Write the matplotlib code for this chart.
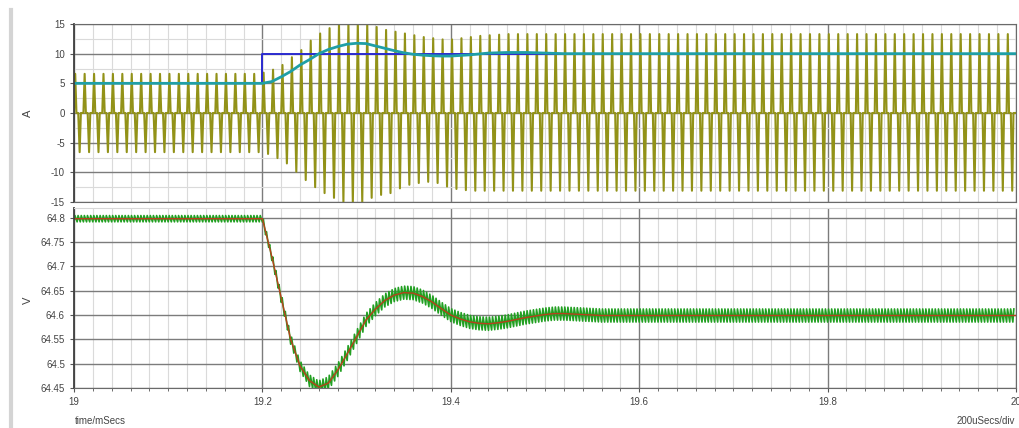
import numpy as np
import matplotlib
matplotlib.use('Agg')
import matplotlib.pyplot as plt
from matplotlib.lines import Line2D
from matplotlib.ticker import MultipleLocator, FuncFormatter

plt.rcParams['font.family'] = ['Liberation Sans Narrow', 'Liberation Sans', 'DejaVu Sans']
plt.rcParams['axes.unicode_minus'] = False

# one switching cycle = 10 uSecs, 100 cycles from 19 to 20 mSecs
t_cycle = np.round(np.arange(19.0, 20.0001, 0.01), 2)

# current: reference step, average (teal), per-cycle peaks of the switched current
ref_t = [19.0, 19.2, 19.2, 20.0]
ref_i = [5, 5, 10, 10]

i_avg = ([5.0] * 21 +
         [5.3, 6.1, 7.0, 8.1, 9.0, 10.0, 10.7, 11.2, 11.6, 11.75, 11.7, 11.3,
          10.9, 10.5, 10.15, 9.9, 9.75, 9.65, 9.6, 9.6, 9.7, 9.8, 9.95, 10.1,
          10.15, 10.2, 10.2, 10.2, 10.15, 10.1, 10.05] +
         [10.0] * 49)

i_pos_peak = ([6.6] * 20 +
              [6.8, 7.3, 8.1, 9.4, 10.6, 12.2, 13.4, 14.3, 15.0, 15.2, 15.3, 15.0,
               14.5, 14.0, 13.7, 13.4, 13.1, 12.8, 12.6, 12.4, 12.4, 12.6, 12.8,
               13.0, 13.1, 13.2] +
              [13.3] * 54)

i_neg_peak = ([-6.6] * 20 +
              [-6.9, -7.6, -8.5, -9.9, -11.3, -12.5, -13.5, -14.3, -15.0, -15.2,
               -15.0, -14.3, -13.8, -13.5, -12.7, -12.1, -11.8, -11.6, -11.8,
               -12.4, -12.8, -13.0, -13.1] +
              [-13.1] * 57)

# output voltage: average (red) and ripple half amplitude per cycle (green)
v_avg = ([64.798] * 21 +
         [64.72, 64.635, 64.55, 64.495, 64.465, 64.452, 64.46, 64.487, 64.52,
          64.555, 64.59, 64.612, 64.63, 64.641, 64.646, 64.645, 64.638, 64.627,
          64.613, 64.600, 64.592, 64.586, 64.583, 64.582, 64.584, 64.587,
          64.591, 64.595, 64.598, 64.601, 64.603, 64.603, 64.602, 64.601, 64.600] +
         [64.599] * 45)

v_ripple = [0.0065] * 20 + [0.007, 0.008, 0.009, 0.010, 0.011, 0.012, 0.013] + [0.0135] * 73

# build the switched current trace cycle by cycle
i_phase = [0.0, 0.13, 0.26, 0.45, 0.60, 0.73]
t_sw, i_sw = [], []
for k in range(100):
    lev = [0, i_pos_peak[k], 0, 0, i_neg_peak[k], 0]
    for ph, l in zip(i_phase, lev):
        t_sw.append(t_cycle[k] + ph * 0.01)
        i_sw.append(l)
t_sw.append(20.0)
i_sw.append(0)

# ripple on the voltage, three teeth per switching cycle (interleaved phases)
v_phase = [0.0, 0.1, 1 / 3, 0.43, 2 / 3, 0.77]
v_sign = [-1, 1, -1, 1, -1, 1]
t_v, v_rip = [], []
for k in range(100):
    for ph, s in zip(v_phase, v_sign):
        tt = t_cycle[k] + ph * 0.01
        t_v.append(tt)
        v_rip.append(np.interp(tt, t_cycle, v_avg) + s * v_ripple[k])

fig = plt.figure(figsize=(10.2, 4.28), dpi=100)
ax1 = fig.add_axes([74 / 1020, 1 - 202 / 428, 942 / 1020, 178 / 428])
ax2 = fig.add_axes([74 / 1020, 1 - 388 / 428, 942 / 1020, 180 / 428])

for ax in (ax1, ax2):
    ax.set_xlim(19, 20)
    ax.xaxis.set_major_locator(MultipleLocator(0.2))
    ax.xaxis.set_minor_locator(MultipleLocator(0.02))
    ax.set_axisbelow(True)
    ax.grid(which='major', color='#7c7c7c', lw=1.0)
    ax.grid(which='minor', color='#dadada', lw=0.8)
    ax.tick_params(which='both', direction='out', color='#555555',
                   labelsize=7, labelcolor='#444444')
    ax.tick_params(which='major', length=3)
    ax.tick_params(which='minor', length=2)
    ax.yaxis.set_major_formatter(FuncFormatter(lambda v, p: '%g' % round(v, 3)))
    for s in ax.spines.values():
        s.set_color('#6a6a6a')
    ax.spines['left'].set_color('#404040')
    ax.spines['left'].set_linewidth(1.3)

ax1.set_ylim(-15, 15)
ax1.yaxis.set_major_locator(MultipleLocator(5))
ax1.yaxis.set_minor_locator(MultipleLocator(2.5))
ax1.tick_params(axis='x', which='both', length=0, labelbottom=False)
ax1.tick_params(axis='y', which='minor', length=0)
ax1.plot(t_sw, i_sw, color='#929218', lw=1.5)
ax1.plot(ref_t, ref_i, color='#2b2bd0', lw=1.4)
ax1.plot(t_cycle, i_avg, color='#1f9fa6', lw=2.0)

ax2.set_ylim(64.45, 64.82)
ax2.yaxis.set_major_locator(MultipleLocator(0.05))
ax2.tick_params(axis='y', which='minor', length=0)
ax2.xaxis.set_major_formatter(FuncFormatter(lambda v, p: '%g' % round(v, 2)))
ax2.spines['top'].set_color('#d8d8d8')
ax2.plot(t_v, v_rip, color='#22a022', lw=1.2)
ax2.plot(t_cycle, v_avg, color='#b8401c', lw=1.0)

fig.text(28 / 1020, 1 - 113 / 428, 'A', rotation=90, fontsize=8, color='#444444',
         ha='center', va='center')
fig.text(28 / 1020, 1 - 300 / 428, 'V', rotation=90, fontsize=8, color='#444444',
         ha='center', va='center')
fig.text(75 / 1020, 1 - 421 / 428, 'time/mSecs', fontsize=7, color='#444444',
         ha='left', va='center')
fig.text(1015 / 1020, 1 - 421 / 428, '200uSecs/div', fontsize=7, color='#444444',
         ha='right', va='center')
fig.add_artist(Line2D([11 / 1020, 11 / 1020], [0, 1 - 10 / 428], color='#d4d4d4', lw=3))

fig.savefig('out.png', dpi=100)
